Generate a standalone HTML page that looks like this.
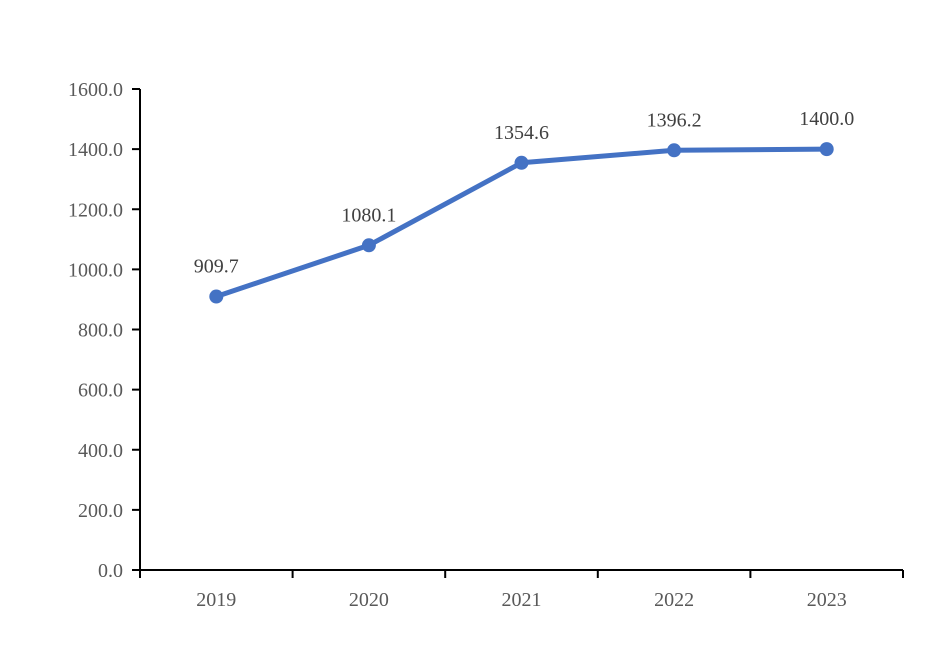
<!DOCTYPE html>
<html><head><meta charset="utf-8"><style>
html,body{margin:0;padding:0;background:#fff;}
svg{display:block;font-family:"Liberation Serif",serif;}
</style></head><body>
<svg id="chart" width="945" height="653"></svg>
<script>
const categories=["2019","2020","2021","2022","2023"];
const values=[909.7,1080.1,1354.6,1396.2,1400.0];
const yTicks=[0,200,400,600,800,1000,1200,1400,1600];
const NS="http://www.w3.org/2000/svg";
const svg=document.getElementById('chart');
const x0=140,x1=903,y0=570,y1=89,yMax=1600;
const band=(x1-x0)/categories.length;
const xs=i=>x0+band*(i+0.5);
const ys=v=>y0-(v/yMax)*(y0-y1);
function mk(t,a,p){const e=document.createElementNS(NS,t);for(const k in a)e.setAttribute(k,a[k]);(p||svg).appendChild(e);return e;}
const axes=mk('g',{});


const ya=mk('line',{x1:x0,y1:y1,x2:x0,y2:y0+4,stroke:'#000','stroke-width':2},axes);


const xa=mk('line',{x1:x0,y1:y0,x2:x1,y2:y0,stroke:'#000','stroke-width':2},axes);


yTicks.forEach(v=>{
  const y=ys(v);
  const t=mk('line',{x1:x0-8,y1:y,x2:x0,y2:y,stroke:'#000','stroke-width':2},axes);
  
  
  const l=mk('text',{x:123,y:y+7,'text-anchor':'end','font-size':20,fill:'#595959'},axes);
  l.textContent=v.toFixed(1);
  
  
});
for(let i=0;i<=categories.length;i++){
  const x=x0+band*i;
  const t=mk('line',{x1:x,y1:y0,x2:x,y2:y0+8,stroke:'#000','stroke-width':2},axes);
  
  
}
categories.forEach((c,i)=>{
  const l=mk('text',{x:xs(i),y:606,'text-anchor':'middle','font-size':20,fill:'#595959'},axes);
  l.textContent=c;
  
  
});
const path=mk('polyline',{points:values.map((v,i)=>xs(i)+','+ys(v)).join(' '),fill:'none',stroke:'#4472C4','stroke-width':5,'stroke-linejoin':'round'});


values.forEach((v,i)=>{
  const c=mk('circle',{cx:xs(i),cy:ys(v),r:7,fill:'#4472C4'});
  
  
  const l=mk('text',{x:xs(i),y:ys(v)-24,'text-anchor':'middle','font-size':20,fill:'#404040'});
  l.textContent=v.toFixed(1);
  
  
});
</script>
</body></html>
